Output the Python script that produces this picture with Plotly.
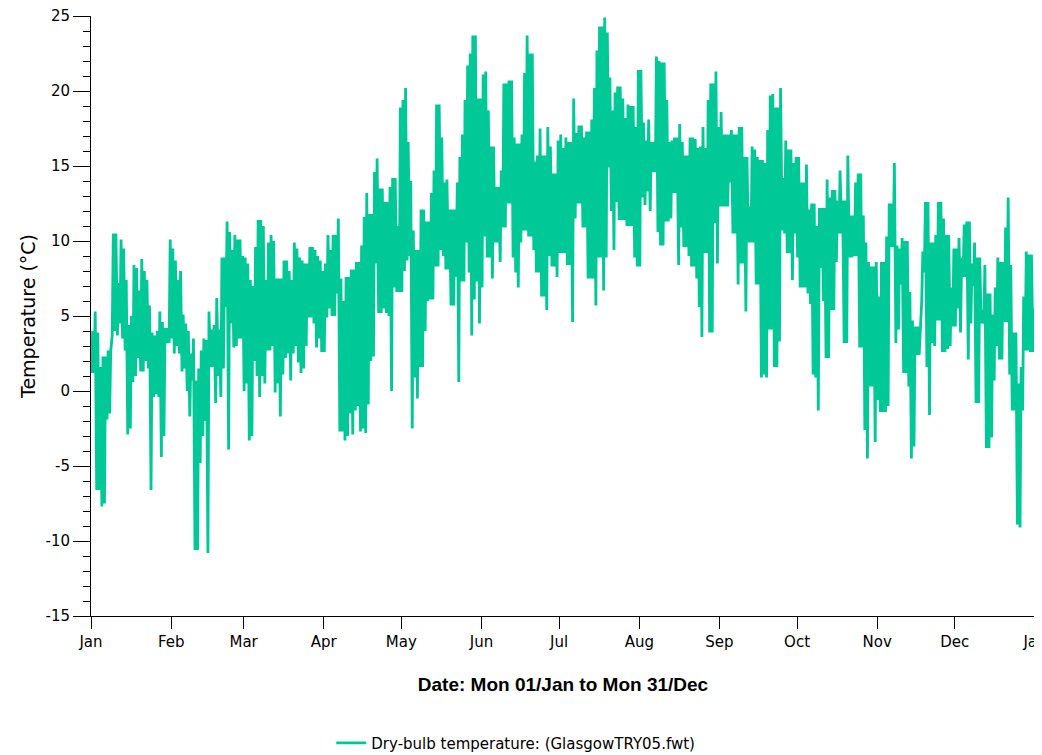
import datetime as dt
import plotly.graph_objects as go

# Daily minimum / maximum dry-bulb temperature (°C)
tmin = [
    1.2, 1.2, -6.6, -6.6, -7.7, -7.5, -1.9, -1.5, 3.7, 4.0,
    3.7, 4.5, 3.5, 2.7, -2.9, -2.5, 0.6, 1.0, 2.2, 1.3,
    1.3, 2.0, 1.5, -6.6, -0.4, -0.2, -0.4, -4.4, -3.0, 3.2,
    3.2, 3.5, 2.5, 3.0, 2.5, 1.3, 1.5, 0.0, -1.7, 0.7,
    -10.6, -10.6, -4.8, -3.0, -2.0, -10.8, 1.6, 1.6, -0.8, 1.0,
    -0.4, 1.5, 5.6, -3.9, 4.5, 2.9, 3.0, 3.5, 3.5, 0.0,
    0.5, -3.3, -3.0, 2.0, 1.0, -0.4, 1.0, 0.5, 2.7, 2.7,
    3.0, -0.1, 0.5, -1.7, 1.1, 2.2, 2.5, 0.7, 2.5, 3.0,
    1.9, 1.2, 1.5, 3.0, 4.9, 4.9, 4.5, 2.9, 3.5, 2.6,
    2.6, 4.9, 5.5, 5.0, 5.0, 6.5, -2.7, -2.7, -3.3, -3.0,
    -1.5, -2.9, -1.3, -1.0, -2.7, -2.5, -2.8, -0.9, 2.0, 2.3,
    8.5, 5.2, 5.2, 5.5, 5.2, 5.0, 0.0, 6.9, 6.6, 6.6,
    6.6, 8.0, 8.7, 9.0, -2.5, 0.9, -0.5, 1.6, 1.6, 4.0,
    6.0, 6.1, 6.1, 8.3, 8.3, 9.4, 9.0, 8.1, 8.1, 5.7,
    5.7, 7.6, 0.6, 7.3, 7.3, 9.9, 7.9, 3.7, 6.1, 7.3,
    4.5, 6.9, 10.3, 8.9, 8.9, 7.5, 9.9, 9.9, 8.6, 10.9,
    10.9, 12.5, 12.5, 8.9, 7.9, 6.9, 9.9, 10.7, 10.7, 10.3,
    10.3, 9.4, 7.9, 7.9, 6.3, 6.3, 5.4, 9.0, 8.3, 8.3,
    7.6, 9.2, 9.2, 9.2, 8.4, 8.4, 4.6, 11.5, 12.5, 12.5,
    10.9, 10.9, 7.5, 7.5, 7.5, 5.7, 8.9, 8.9, 6.7, 8.9,
    14.9, 12.0, 9.4, 12.6, 11.4, 11.4, 11.4, 11.0, 11.0, 11.0,
    8.9, 8.3, 8.3, 12.9, 12.4, 13.3, 12.0, 14.6, 14.6, 10.6,
    9.7, 9.7, 11.3, 11.3, 11.5, 13.2, 13.2, 8.4, 10.9, 9.6,
    9.6, 9.0, 8.3, 8.3, 7.5, 5.6, 3.6, 9.2, 9.2, 3.9,
    3.9, 11.2, 8.5, 12.3, 12.3, 12.3, 12.3, 13.9, 10.5, 10.5,
    7.1, 8.5, 8.5, 5.3, 9.9, 9.9, 9.9, 7.1, 7.1, 0.9,
    1.1, 0.9, 4.1, 4.1, 1.6, 1.6, 3.3, 10.7, 10.5, 9.2,
    9.2, 7.4, 10.5, 8.9, 6.9, 6.9, 6.9, 6.5, 5.8, 1.1,
    0.9, -1.3, 8.2, 6.0, 2.2, 2.2, 5.4, 5.4, 8.6, 10.5,
    10.5, 3.2, 3.2, 8.9, 8.9, 9.0, 9.0, 2.9, 2.9, -2.6,
    -4.5, 0.3, 0.3, -3.4, -0.6, -1.4, -1.4, -1.4, -1.0, 9.6,
    9.6, 3.2, 4.1, 7.1, 1.2, 1.2, 0.3, -4.5, -3.7, 2.4,
    2.4, 6.0, 7.9, 1.6, -1.6, 3.2, 3.0, 4.7, 4.7, 2.6,
    2.6, 2.8, 3.0, 4.3, 4.3, 5.5, 3.9, 7.6, 7.6, 2.1,
    4.5, 7.0, -0.8, -0.8, 4.5, 4.5, -3.8, -3.8, -3.1, 0.7,
    3.0, 2.1, 2.1, 4.6, 4.6, 1.1, -1.3, -1.3, -8.9, -9.1,
    -1.3, 2.7, 2.7, 2.6, 2.6,
]

tmax = [
    4.0, 5.3, 3.9, 1.6, 2.3, 2.3, 2.7, 2.7, 10.5, 10.5,
    7.2, 10.1, 9.5, 7.4, 4.4, 5.0, 8.4, 8.2, 6.7, 8.8,
    8.0, 7.4, 5.7, 3.9, 3.7, 4.0, 5.3, 4.6, 4.2, 4.2,
    10.1, 9.5, 8.7, 7.4, 8.0, 5.1, 4.5, 4.0, 2.5, 3.5,
    0.7, 1.5, 2.7, 3.5, 3.4, 5.3, 4.1, 4.4, 6.2, 4.1,
    8.9, 8.9, 11.3, 10.6, 9.4, 10.4, 10.1, 10.1, 9.0, 8.9,
    8.5, 7.4, 7.0, 9.6, 11.4, 11.4, 11.0, 7.4, 9.9, 10.4,
    10.0, 7.5, 7.5, 7.5, 8.7, 8.7, 8.0, 7.4, 9.9, 9.5,
    8.9, 8.7, 8.5, 8.5, 9.6, 9.6, 9.4, 9.0, 8.7, 8.0,
    8.5, 10.4, 9.4, 10.4, 10.4, 11.5, 7.5, 6.0, 7.6, 7.6,
    8.1, 8.1, 8.6, 8.6, 9.7, 11.6, 13.2, 11.8, 11.8, 14.6,
    15.5, 13.5, 13.5, 12.6, 12.6, 13.6, 14.2, 14.2, 11.0, 18.9,
    19.4, 20.2, 16.6, 14.0, 10.7, 9.4, 9.4, 12.1, 12.1, 11.3,
    11.3, 13.2, 14.7, 19.1, 19.1, 16.9, 13.9, 14.1, 12.1, 12.1,
    12.1, 13.9, 15.6, 17.1, 19.4, 21.7, 22.5, 23.7, 23.7, 19.5,
    19.5, 21.1, 21.3, 18.7, 16.3, 16.3, 13.6, 13.6, 14.7, 20.5,
    20.5, 20.7, 20.7, 16.9, 16.5, 16.5, 17.1, 21.2, 23.7, 22.5,
    22.5, 15.3, 15.7, 17.5, 15.7, 15.7, 17.6, 16.3, 14.5, 14.5,
    16.7, 17.1, 16.2, 16.9, 16.6, 16.6, 19.5, 17.2, 17.7, 17.7,
    16.9, 17.3, 17.3, 18.1, 20.2, 22.7, 24.3, 24.3, 24.9, 23.9,
    20.9, 18.7, 19.9, 20.3, 20.3, 19.5, 18.2, 19.1, 19.0, 19.0,
    17.6, 21.4, 21.4, 17.9, 16.7, 18.1, 16.6, 16.6, 22.3, 22.0,
    21.9, 21.9, 19.4, 16.6, 16.7, 16.9, 16.9, 17.8, 16.6, 15.7,
    15.7, 16.9, 16.9, 16.8, 16.2, 16.3, 17.6, 16.2, 19.4, 20.5,
    20.5, 21.3, 17.6, 18.6, 17.1, 17.1, 17.1, 17.4, 17.1, 17.1,
    17.6, 17.6, 15.6, 15.6, 12.3, 16.3, 16.1, 15.6, 15.4, 15.4,
    15.2, 17.4, 19.7, 19.8, 18.9, 18.9, 20.2, 14.2, 16.7, 16.1,
    16.1, 15.2, 15.6, 15.6, 13.9, 13.9, 15.1, 12.1, 12.5, 12.5,
    11.0, 12.2, 12.2, 12.2, 14.1, 12.9, 13.4, 13.4, 12.7, 14.7,
    12.7, 12.7, 15.7, 11.7, 11.7, 13.9, 14.5, 14.5, 11.7, 9.9,
    8.6, 8.3, 8.3, 8.6, 6.3, 8.6, 8.6, 10.3, 12.5, 12.5,
    15.2, 9.7, 9.5, 10.2, 10.0, 10.0, 6.6, 4.7, 4.3, 4.3,
    4.3, 9.3, 12.6, 12.6, 9.9, 9.9, 10.4, 12.6, 12.6, 11.5,
    10.4, 10.4, 6.9, 9.5, 9.5, 10.2, 8.9, 11.1, 11.3, 11.3,
    8.5, 9.9, 8.9, 8.9, 5.4, 8.4, 6.5, 6.5, 5.1, 6.9,
    8.9, 8.6, 8.6, 10.9, 12.9, 8.4, 3.9, 3.9, 0.5, 1.6,
    6.3, 9.3, 9.1, 9.1, 5.5,
]

month_labels = ["Jan", "Feb", "Mar", "Apr", "May", "Jun",
                "Jul", "Aug", "Sep", "Oct", "Nov", "Dec", "Jan"]
y_ticks = [-15, -10, -5, 0, 5, 10, 15, 20, 25]
y_tick_labels = ["-15", "-10", "-5", "0", "5", "10", "15", "20", "25"]
year = 2001

start = dt.datetime(year, 1, 1)
xs, ys = [], []
for i, (lo, hi) in enumerate(zip(tmin, tmax)):
    xs.append(start + dt.timedelta(days=i, hours=5))
    ys.append(lo)
    xs.append(start + dt.timedelta(days=i, hours=15))
    ys.append(hi)

tickvals = [dt.datetime(year, m, 1) for m in range(1, 13)] + [dt.datetime(year + 1, 1, 1)]

color = "#00C896"
fig = go.Figure()
fig.add_trace(go.Scatter(
    x=xs, y=ys, mode="lines",
    line=dict(color=color, width=2.8),
    name="Dry-bulb temperature: (GlasgowTRY05.fwt)",
    showlegend=True,
))

tick_font = dict(family="DejaVu Sans", size=15, color="black")

# The page body adds an 8px margin, so the figure is 8px smaller than the window
fig.update_layout(
    width=1034, height=747,
    margin=dict(l=83, r=7, t=8, b=139, autoexpand=False),
    paper_bgcolor="white", plot_bgcolor="white",
    showlegend=True,
    legend=dict(
        orientation="h", x=0.45, xanchor="center", y=-0.212, yanchor="middle",
        font=dict(family="DejaVu Sans", size=15, color="black"),
        bgcolor="rgba(0,0,0,0)",
    ),
    xaxis=dict(
        range=[start, dt.datetime(year + 1, 1, 1)],
        automargin=False,
        tickmode="array", tickvals=tickvals, ticktext=month_labels,
        ticks="outside", ticklen=12, tickcolor="black", tickwidth=1,
        ticklabeloverflow="allow",
        showline=True, linecolor="black", linewidth=1,
        showgrid=False, zeroline=False,
        tickfont=tick_font,
        title=dict(text="<b>Date: Mon 01/Jan to Mon 31/Dec</b>",
                   font=dict(family="Liberation Sans", size=19, color="black"),
                   standoff=27),
    ),
    yaxis=dict(
        range=[-15, 25],
        tickmode="array", tickvals=y_ticks, ticktext=y_tick_labels,
        automargin=False,
        ticks="outside", ticklen=17, tickcolor="black", tickwidth=1,
        ticklabeloverflow="allow",
        minor=dict(tickmode="linear", dtick=1, tick0=-15, ticks="outside", ticklen=7,
                   tickcolor="black", tickwidth=1, showgrid=False),
        showline=True, linecolor="black", linewidth=1,
        showgrid=False, zeroline=False,
        tickfont=tick_font,
        title=dict(text="Temperature (°C)",
                   font=dict(family="DejaVu Sans", size=19, color="black"),
                   standoff=4),
    ),
)

fig.write_html("out.html")
